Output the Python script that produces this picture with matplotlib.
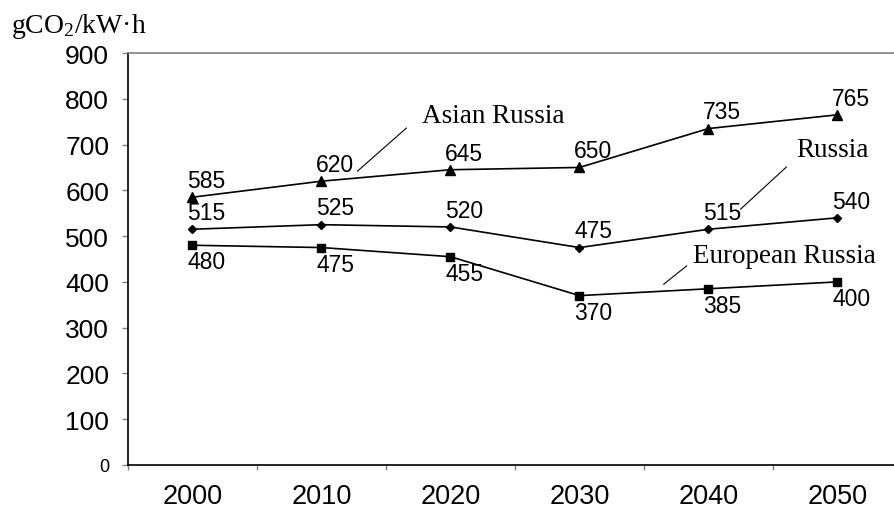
import matplotlib
matplotlib.use("Agg")
import matplotlib.pyplot as plt

years = ["2000", "2010", "2020", "2030", "2040", "2050"]
asian = [585, 620, 645, 650, 735, 765]
russia = [515, 525, 520, 475, 515, 540]
european = [480, 475, 455, 370, 385, 400]
yticks = [0, 100, 200, 300, 400, 500, 600, 700, 800, 900]

plt.rcParams['font.family'] = ['Liberation Sans', 'DejaVu Sans']
plt.rcParams['mathtext.fontset'] = 'custom'
plt.rcParams['mathtext.rm'] = 'Liberation Serif'
plt.rcParams['mathtext.it'] = 'Liberation Serif:italic'

fig = plt.figure(figsize=(8.95, 5.10), dpi=100)
ax = fig.add_axes([128/895, 44/510, 774/895, 412/510])

x = list(range(len(years)))
ax.plot(x, asian, color='black', lw=1.2, marker='^', ms=6.5, mfc='black', mec='black')
ax.plot(x, russia, color='black', lw=1.2, marker='D', ms=4.5, mfc='black', mec='black')
ax.plot(x, european, color='black', lw=1.2, marker='s', ms=6, mfc='black', mec='black')

for xi, v in zip(x, asian):
    ax.annotate(str(v), (xi, v), xytext=(10, 12), textcoords='offset points',
                ha='center', va='center', fontsize=16.5)
for xi, v in zip(x, russia):
    ax.annotate(str(v), (xi, v), xytext=(10, 12), textcoords='offset points',
                ha='center', va='center', fontsize=16.5)
for xi, v in zip(x, european):
    ax.annotate(str(v), (xi, v), xytext=(10, -12), textcoords='offset points',
                ha='center', va='center', fontsize=16.5)

ax.set_xlim(-0.5, len(years) - 0.5)
ax.set_ylim(0, 900)

ax.set_xticks([i + 0.5 for i in range(-1, len(years))])
ax.set_xticklabels([])
ax.set_xticks(x, minor=True)
ax.set_xticklabels(years, minor=True, fontsize=19.5)
ax.tick_params(axis='x', which='major', direction='out', length=3.8, color='#808080', width=1)
ax.tick_params(axis='x', which='minor', length=0, pad=13)

ax.set_yticks(yticks)
ax.set_yticklabels([str(t) for t in yticks], fontsize=19)
ax.get_yticklabels()[0].set_fontsize(13)
ax.tick_params(axis='y', direction='out', length=4.5, color='#808080', width=1, pad=9)

for s in ['left', 'bottom']:
    ax.spines[s].set_color('black')
    ax.spines[s].set_linewidth(1.2)
ax.spines['top'].set_color('#808080')
ax.spines['top'].set_linewidth(1.2)
ax.spines['right'].set_visible(False)

serif = ['Liberation Serif', 'DejaVu Serif']
ax.plot([1.279, 1.658], [642, 736], color='black', lw=0.8)
ax.text(1.781, 749, 'Asian Russia', family=serif, fontsize=19.5, va='baseline', ha='left')
ax.plot([4.249, 4.604], [559, 651], color='black', lw=0.8)
ax.text(4.682, 675, 'Russia', family=serif, fontsize=19.5, va='baseline', ha='left')
ax.plot([3.653, 3.831], [395, 435], color='black', lw=0.8)
ax.text(3.877, 443, 'European Russia', family=serif, fontsize=19.5, va='baseline', ha='left')

fig.text(11/895, 1 - 33/510, 'gCO$_2$/kW·h', family=serif, fontsize=20, va='baseline', ha='left')

fig.savefig('out.png', dpi=100)
